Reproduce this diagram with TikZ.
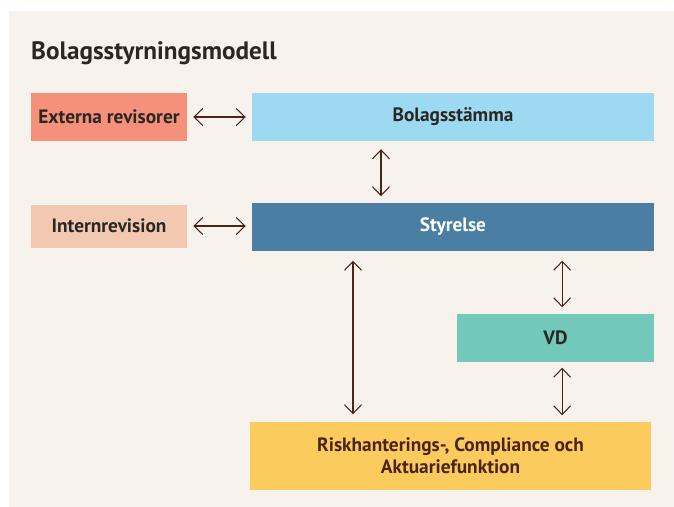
\documentclass[tikz,border=0pt]{standalone}
\usepackage{fontspec}
\setmainfont{PT Sans}
\usepackage{tikz}
\usetikzlibrary{arrows.meta}

\definecolor{paper}{HTML}{F7F2EC}
\definecolor{salmon}{HTML}{F5907A}
\definecolor{skyblue}{HTML}{9DDAF2}
\definecolor{peach}{HTML}{F2C9B0}
\definecolor{steel}{HTML}{4A7FA3}
\definecolor{teal}{HTML}{72C8BB}
\definecolor{sun}{HTML}{FCCB5E}
\definecolor{ink}{HTML}{2B2624}
\definecolor{rust}{HTML}{4A2418}

\tikzset{
  box/.style={inner sep=0pt, font=\bfseries\fontsize{16.5}{19}\selectfont, text=ink, align=center},
  link/.style={<->, draw=rust, line width=0.9pt},
}

\begin{document}
\begin{tikzpicture}[x=0.03cm, y=-0.03cm, >={Straight Barb[length=7.5pt, width=14.5pt]}]
  \useasboundingbox (0,0) rectangle (674,507);
  \fill[paper] (9,11) rectangle (674,507);
  \node[anchor=base west, inner sep=0pt, font=\bfseries\fontsize{21.5}{25}\selectfont, text=ink] (title) at (31,60) {Bolagsstyrningsmodell};
  % boxes
  \node[box, fill=salmon, minimum width=156*0.03cm, minimum height=48*0.03cm] (ext) at (109,117) {Externa revisorer};
  \node[box, fill=skyblue, minimum width=402*0.03cm, minimum height=48*0.03cm] (bolag) at (453,117) {Bolagsstämma};
  \node[box, fill=peach, minimum width=156*0.03cm, minimum height=43*0.03cm] (intern) at (109,226) {Internrevision};
  \node[box, fill=steel, text=white, minimum width=402*0.03cm, minimum height=48*0.03cm] (styr) at (453,226.5) {Styrelse};
  \node[box, fill=teal, minimum width=197*0.03cm, minimum height=48*0.03cm] (vd) at (555.5,337.5) {VD};
  \node[box, fill=sun, text=rust, minimum width=401*0.03cm, minimum height=68*0.03cm] (risk) at (450.5,455.5) {Riskhanterings-, Compliance och\\Aktuariefunktion};
  % arrows
  \draw[link, shorten <=6*0.03cm, shorten >=6*0.03cm] (ext) -- (bolag);
  \draw[link, shorten <=6*0.03cm, shorten >=6*0.03cm] (intern.east) -- (intern.east -| styr.west);
  \draw[link, shorten <=8*0.03cm, shorten >=6*0.03cm] ([xshift=-2.16cm]bolag.south) -- ([xshift=-2.16cm]styr.north);
  \draw[link, shorten <=10*0.03cm, shorten >=7*0.03cm] ([xshift=-3cm]styr.south) coordinate (s) -- (s |- risk.north);
  \draw[link, shorten <=10*0.03cm, shorten >=6*0.03cm] ([xshift=0.2cm]vd.north |- styr.south) -- ([xshift=0.2cm]vd.north);
  \draw[link, shorten <=6*0.03cm, shorten >=6*0.03cm] ([xshift=0.2cm]vd.south) -- ([xshift=0.2cm]vd.south |- risk.north);
\end{tikzpicture}
\end{document}
